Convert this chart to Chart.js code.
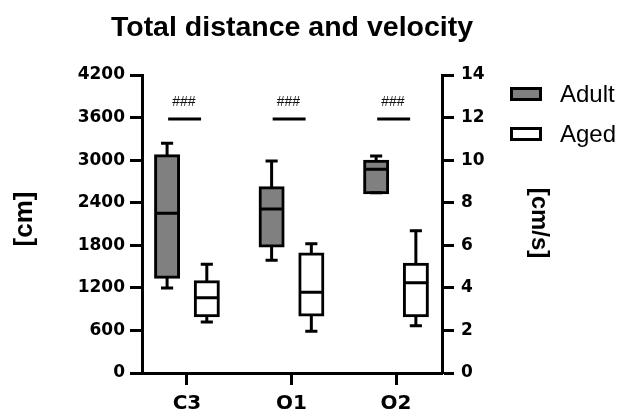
<!DOCTYPE html>
<html><head><meta charset="utf-8">
<script src="https://cdn.jsdelivr.net/npm/chart.js@4.4.1/dist/chart.umd.min.js"></script>
<style>html,body{margin:0;padding:0;background:#fff}canvas{display:block}</style>
</head><body>
<canvas id="c" width="620" height="412"></canvas>
<script>
// ---- data ----
const categories = ['C3', 'O1', 'O2'];
const seriesNames = ['Adult', 'Aged'];
const adultMin    = [1198, 1588, 2541];
const adultQ1     = [1349, 1790, 2541];
const adultMedian = [2251, 2311, 2870];
const adultQ3     = [3063, 2612, 2983];
const adultMax    = [3237, 2988, 3058];
const agedMin     = [719, 587, 667];
const agedQ1      = [808, 817, 808];
const agedMedian  = [1061, 1137, 1273];
const agedQ3      = [1287, 1677, 1532];
const agedMax     = [1532, 1823, 2006];
const sigLabels   = ['###', '###', '###'];
const sigLevel    = [3580, 3580, 3580];
const leftTicks   = [0, 600, 1200, 1800, 2400, 3000, 3600, 4200];
const rightTicks  = [0, 2, 4, 6, 8, 10, 12, 14];
const titleText = 'Total distance and velocity';
const leftTitle = '[cm]';
const rightTitle = '[cm/s]';

// ---- layout constants (x-axis units) ----
const OFF = 0.19, MED = 0.11, CAP = 0.058;
const SIG_L = -0.18, SIG_R = 0.135;

function boxData(q1, q3, off) {
  return categories.map((c, i) => ({ x: i + off, y: [q1[i], q3[i]] }));
}
function linesData(mn, q1, md, q3, mx, off) {
  const pts = [];
  categories.forEach((c, i) => {
    const cx = i + off;
    const brk = { x: cx, y: null };
    pts.push({ x: cx, y: q3[i] }, { x: cx, y: mx[i] }, brk);
    pts.push({ x: cx - CAP, y: mx[i] }, { x: cx + CAP, y: mx[i] }, brk);
    pts.push({ x: cx, y: q1[i] }, { x: cx, y: mn[i] }, brk);
    pts.push({ x: cx - CAP, y: mn[i] }, { x: cx + CAP, y: mn[i] }, brk);
    pts.push({ x: cx - MED, y: md[i] }, { x: cx + MED, y: md[i] }, brk);
  });
  return pts;
}
function sigData() {
  const pts = [];
  categories.forEach((c, i) => {
    pts.push({ x: i + SIG_L, y: sigLevel[i] }, { x: i + SIG_R, y: sigLevel[i] }, { x: i, y: null });
  });
  return pts;
}

const lineStyle = { type: 'line', borderColor: '#000', borderWidth: 3, pointRadius: 0, fill: false,
  tension: 0, spanGaps: false, borderCapStyle: 'butt', order: 0, xAxisID: 'x', yAxisID: 'y' };

const annotate = {
  id: 'annotate',
  afterDatasetsDraw(chart) {
    const { ctx, scales: { x, y } } = chart;
    ctx.save();
    ctx.fillStyle = '#111';
    ctx.font = '14px "Liberation Sans", Arial, sans-serif';
    ctx.textAlign = 'center';
    ctx.textBaseline = 'middle';
    sigLabels.forEach((t, i) => {
      ctx.fillText(t, x.getPixelForValue(i - 0.03), y.getPixelForValue(sigLevel[i]) - 17);
    });
    ctx.restore();
  },
  afterDraw(chart) {
    const { ctx, chartArea } = chart;
    ctx.save();
    ctx.fillStyle = '#000';
    // title
    ctx.font = 'bold 28.5px "Liberation Sans", Arial, sans-serif';
    ctx.textAlign = 'center';
    ctx.textBaseline = 'alphabetic';
    ctx.fillText(titleText, (chartArea.left + chartArea.right) / 2, 36);
    // axis titles
    ctx.textBaseline = 'middle';
    ctx.save();
    ctx.translate(25, 219);
    ctx.rotate(-Math.PI / 2);
    ctx.font = 'bold 26px "Liberation Sans", Arial, sans-serif';
    ctx.fillText(leftTitle, 0, 0);
    ctx.restore();
    ctx.save();
    ctx.translate(539, 223);
    ctx.rotate(Math.PI / 2);
    ctx.font = 'bold 24px "Liberation Sans", Arial, sans-serif';
    ctx.fillText(rightTitle, 0, 0);
    ctx.restore();
    // legend
    const fills = ['#808080', '#ffffff'];
    const ys = [88.5, 128.5];
    ctx.lineWidth = 3;
    ctx.strokeStyle = '#000';
    ctx.font = '24px "Liberation Sans", Arial, sans-serif';
    ctx.textAlign = 'left';
    ctx.textBaseline = 'alphabetic';
    seriesNames.forEach((n, k) => {
      ctx.fillStyle = fills[k];
      ctx.fillRect(511.5, ys[k], 29, 11);
      ctx.strokeRect(511.5, ys[k], 29, 11);
      ctx.fillStyle = '#000';
      ctx.fillText(n, 560, ys[k] + 13);
    });
    ctx.restore();
  }
};

const tickFont = { family: 'DejaVu Sans', size: 17, weight: 'bold' };
const axisCommon = {
  grid: { drawOnChartArea: false, drawTicks: true, tickLength: 12, tickWidth: 3, tickColor: '#000' },
  border: { display: true, width: 3, color: '#000' }
};

new Chart(document.getElementById('c'), {
  type: 'bar',
  data: {
    datasets: [
      Object.assign({}, lineStyle, { label: 'adult-lines', data: linesData(adultMin, adultQ1, adultMedian, adultQ3, adultMax, -OFF) }),
      Object.assign({}, lineStyle, { label: 'aged-lines', data: linesData(agedMin, agedQ1, agedMedian, agedQ3, agedMax, OFF) }),
      Object.assign({}, lineStyle, { label: 'sig', data: sigData() }),
      { type: 'bar', label: seriesNames[0], data: boxData(adultQ1, adultQ3, -OFF), backgroundColor: '#808080',
        borderColor: '#000', borderWidth: 3, borderSkipped: false, barThickness: 23, inflateAmount: 1.5,
        grouped: false, order: 1, xAxisID: 'x', yAxisID: 'y' },
      { type: 'bar', label: seriesNames[1], data: boxData(agedQ1, agedQ3, OFF), backgroundColor: '#ffffff',
        borderColor: '#000', borderWidth: 3, borderSkipped: false, barThickness: 23, inflateAmount: 1.5,
        grouped: false, order: 1, xAxisID: 'x', yAxisID: 'y' }
    ]
  },
  options: {
    responsive: false,
    animation: false,
    events: [],
    layout: { padding: { top: 75, left: 0, right: 0, bottom: 0 } },
    plugins: { legend: { display: false }, tooltip: { enabled: false }, title: { display: false } },
    scales: {
      x: Object.assign({}, axisCommon, {
        type: 'linear', min: -0.43, max: 2.44, offset: false,
        grid: Object.assign({}, axisCommon.grid, { offset: false }),
        afterBuildTicks: s => { s.ticks = categories.map((c, i) => ({ value: i })); },
        afterFit: s => { s.height = 39; },
        ticks: { font: { family: 'DejaVu Sans', size: 20, weight: 'bold' }, color: '#000', padding: 7,
          maxRotation: 0, autoSkip: false, callback: v => categories[v] }
      }),
      y: Object.assign({}, axisCommon, {
        position: 'left', min: 0, max: 4200,
        afterBuildTicks: s => { s.ticks = leftTicks.map(v => ({ value: v })); },
        afterFit: s => { s.width = 142; },
        ticks: { font: tickFont, color: '#000', padding: 5, callback: v => String(v) }
      }),
      y2: Object.assign({}, axisCommon, {
        position: 'right', min: 0, max: 14,
        afterBuildTicks: s => { s.ticks = rightTicks.map(v => ({ value: v })); },
        afterFit: s => { s.width = 178; },
        ticks: { font: tickFont, color: '#000', padding: 7, callback: v => String(v) }
      })
    }
  },
  plugins: [annotate]
});
</script>
</body></html>
